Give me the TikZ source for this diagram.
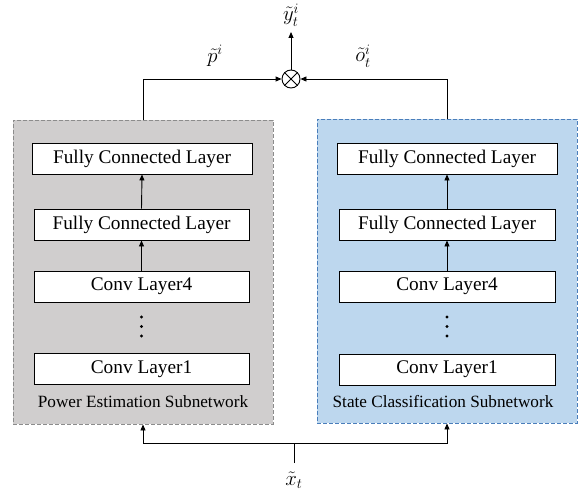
\documentclass[tikz,border=0pt]{standalone}
\usepackage{fontspec}
\setmainfont{Liberation Serif}
\usetikzlibrary{arrows.meta}
\definecolor{greyfill}{HTML}{D0CECE}
\definecolor{greyline}{HTML}{8C8C8C}
\definecolor{bluefill}{HTML}{BDD7EE}
\definecolor{blueline}{HTML}{4A7EBB}
\tikzset{
  layerbox/.style={draw=black, fill=white, line width=0.9pt, minimum height=31pt, inner sep=0pt,
    font=\fontsize{19.3}{22}\selectfont},
  container/.style={line width=0.9pt, dash pattern=on 4pt off 2pt, minimum width=260pt, minimum height=304pt, inner sep=0pt},
  sublabel/.style={font=\fontsize{17.2}{20}\selectfont, inner sep=0pt},
  mathlabel/.style={font=\fontsize{21}{24}\selectfont, inner sep=0pt},
  conn/.style={line width=0.9pt, -{Triangle[length=6pt,width=5pt]}},
  plain/.style={line width=0.9pt},
}
\begin{document}
\begin{tikzpicture}[x=1pt,y=-1pt]
\useasboundingbox (0,0) rectangle (585,497);
% containers
\node[container, draw=greyline, fill=greyfill] (L) at (143,272) {};
\node[container, draw=blueline, fill=bluefill] (R) at (447,271) {};
% left layers
\node[layerbox, minimum width=220pt] (lfc1) at (142,158.5) {Fully Connected Layer};
\node[layerbox, minimum width=215pt] (lfc2) at (141.5,224.5) {Fully Connected Layer};
\node[layerbox, minimum width=215pt] (lc4) at (141.5,286.5) {Conv Layer4};
\node[layerbox, minimum width=215pt] (lc1) at (141.5,369) {Conv Layer1};
\fill (141.5,317) circle (1.6pt) (141.5,326.5) circle (1.6pt) (141.5,336) circle (1.6pt);
\node[sublabel] (llab) at (143,402) {Power Estimation Subnetwork};
% right layers
\node[layerbox, minimum width=220pt] (rfc1) at (447,158.5) {Fully Connected Layer};
\node[layerbox, minimum width=216pt] (rfc2) at (447,224.5) {Fully Connected Layer};
\node[layerbox, minimum width=216pt] (rc4) at (447,286.5) {Conv Layer4};
\node[layerbox, minimum width=216pt] (rc1) at (447,369.5) {Conv Layer1};
\fill (447,317) circle (1.6pt) (447,326.5) circle (1.6pt) (447,336) circle (1.6pt);
\node[sublabel] (rlab) at (443,402) {State Classification Subnetwork};
% inner arrows
\draw[conn] (lfc2.north) -- (lfc1.south);
\draw[conn] (lc4.north) -- (lfc2.south);
\draw[conn] (rfc2.north) -- (rfc1.south);
\draw[conn] (rc4.north) -- (rfc2.south);
% otimes
\node[draw, circle, line width=0.9pt, minimum size=18pt, inner sep=0pt] (ot) at (291,79) {};
\draw[plain] (ot.45) -- (ot.225) (ot.135) -- (ot.315);
\draw[conn] (L.north) |- (ot.west);
\draw[conn] (R.north) |- (ot.east);
\coordinate (ytop) at (291,32);
\draw[conn] (ot.north) -- (ytop);
\node[mathlabel] (ylab) at (291,15) {$\tilde{y}_t^{i}$};
\node[mathlabel] (plab) at (215,56) {$\tilde{p}^{i}$};
\node[mathlabel] (olab) at (363,56) {$\tilde{o}_t^{i}$};
% bottom input
\coordinate (xin) at (294,463);
\coordinate (xj) at (294,443);
\draw[plain] (xin) -- (xj);
\draw[conn] (xj) -| (L.south);
\draw[conn] (xj) -| (R.south);
\node[mathlabel] (xlab) at (294,480) {$\tilde{x}_t$};
\end{tikzpicture}
\end{document}
